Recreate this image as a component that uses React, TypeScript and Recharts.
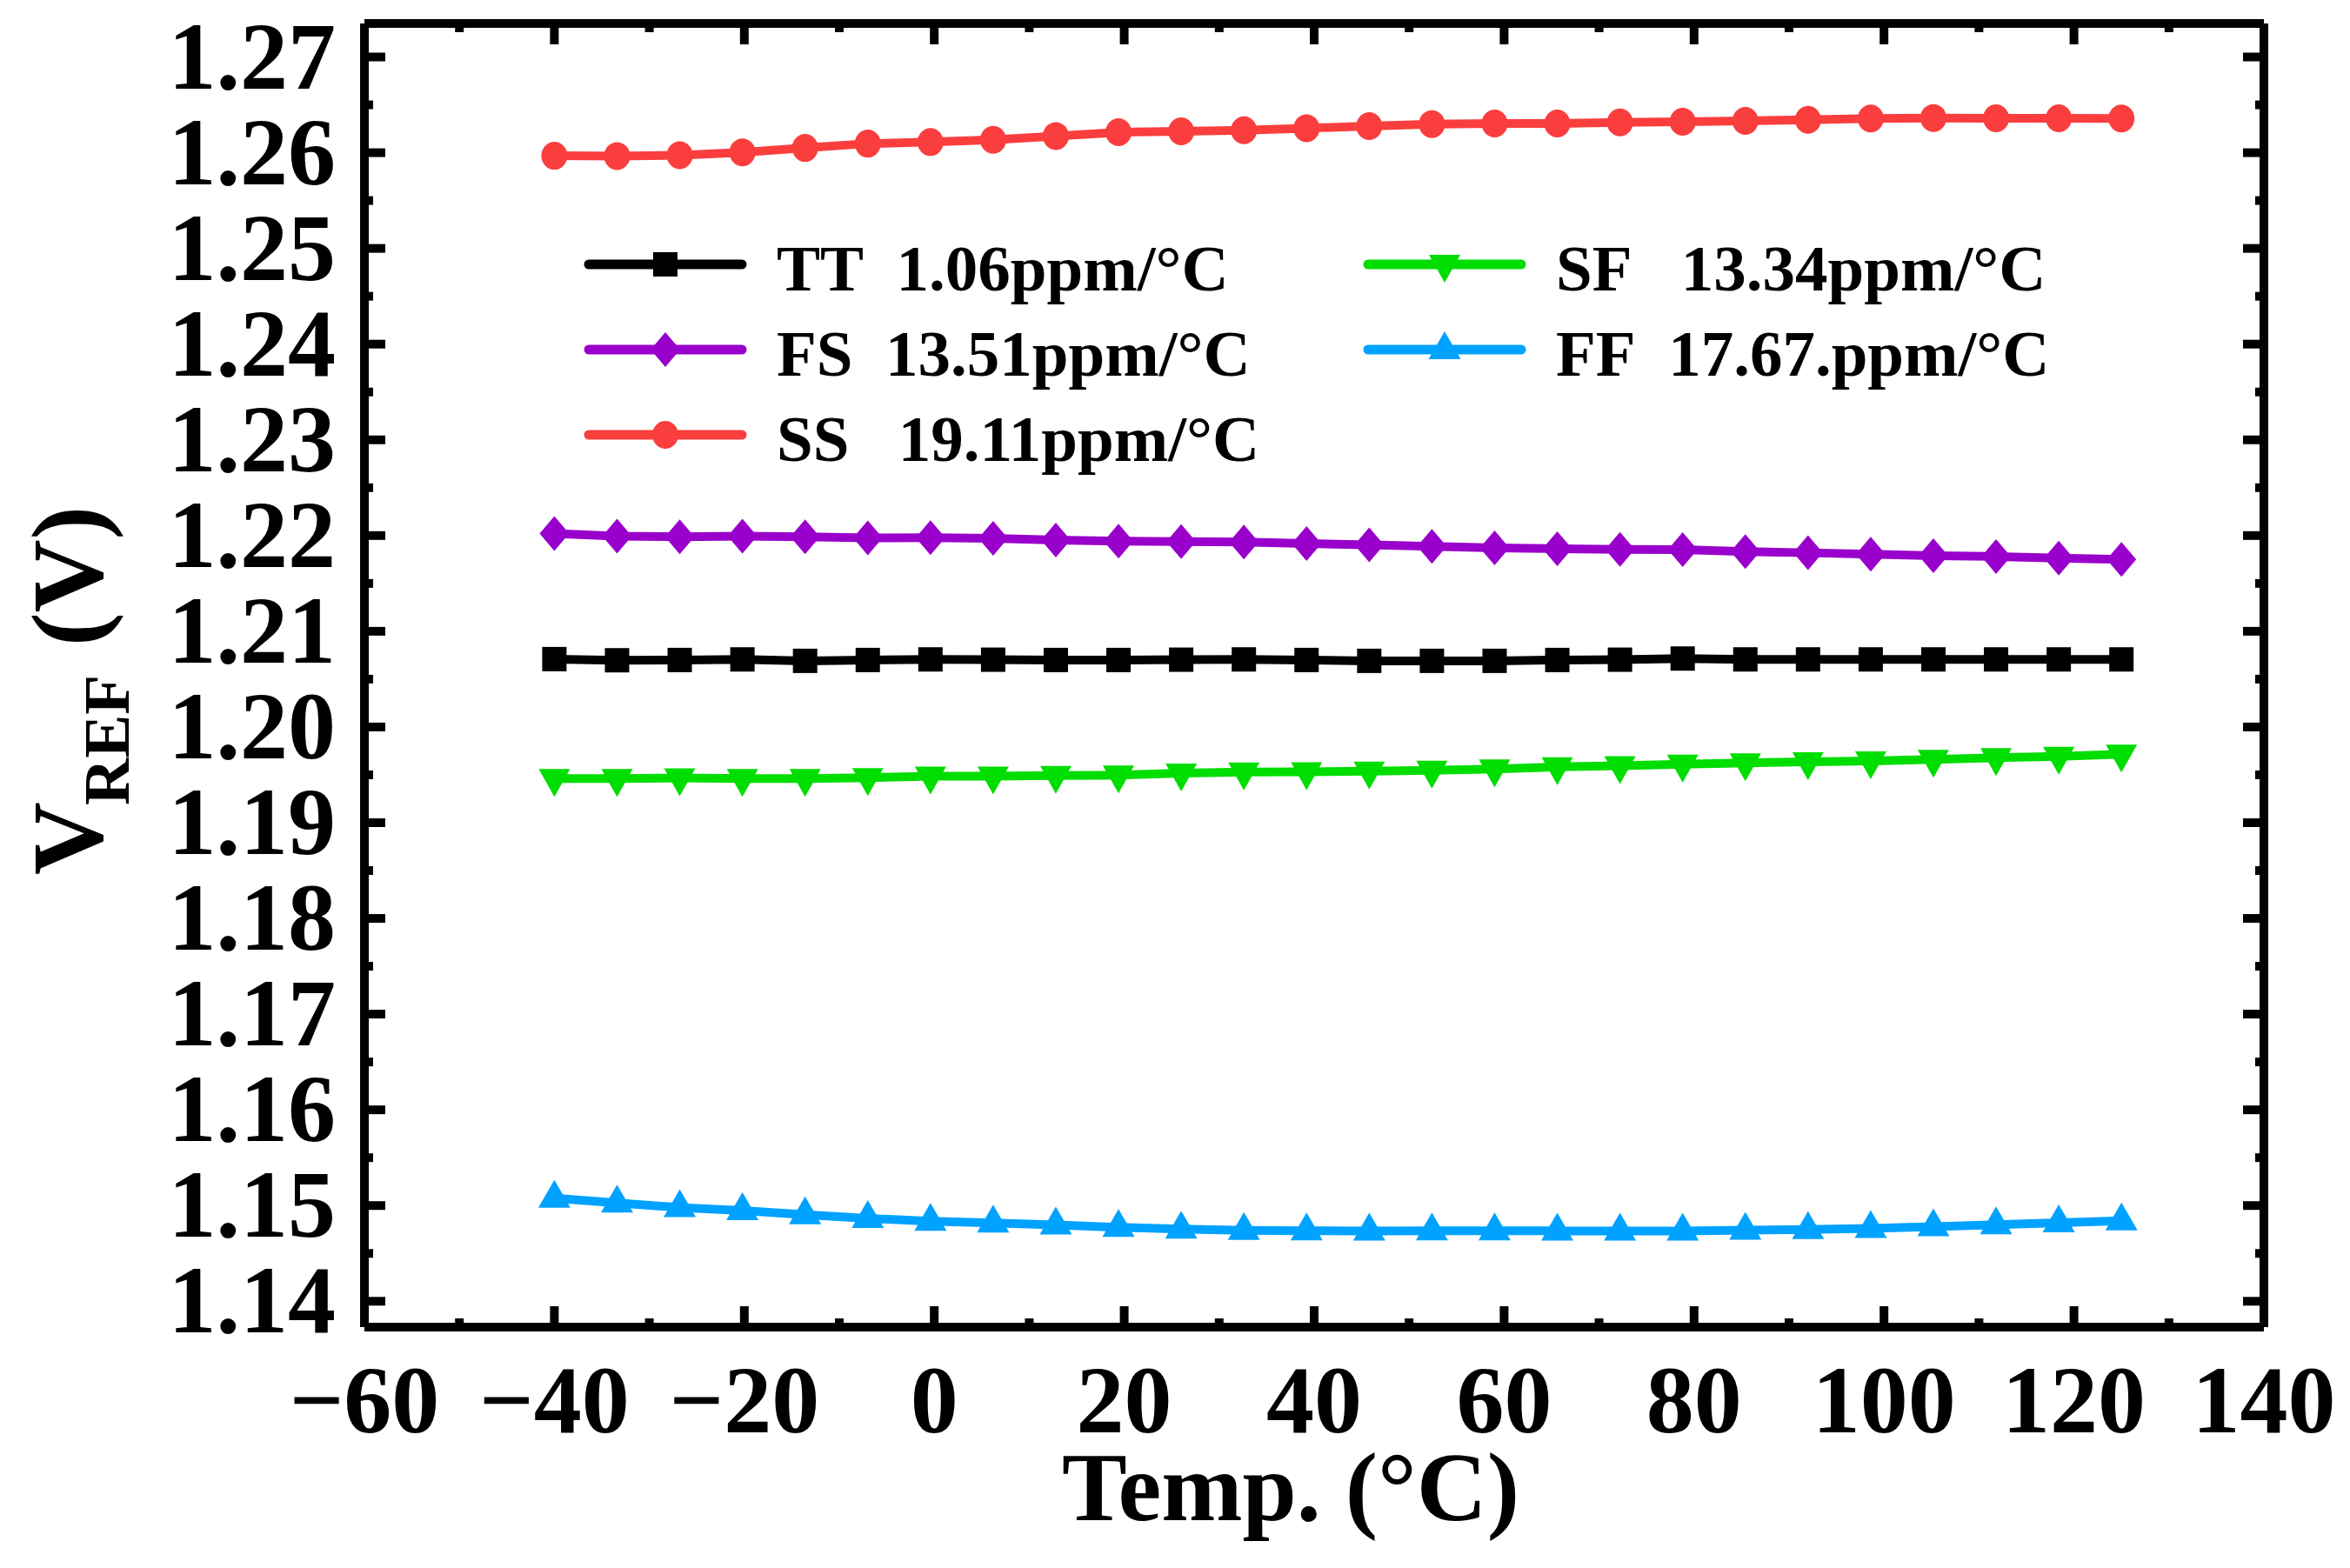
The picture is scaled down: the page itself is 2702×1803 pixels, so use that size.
import { LineChart, Line, XAxis, YAxis, Legend } from "recharts";

// temperature sweep (°C)
const TEMPS = [
  -40, -33.4, -26.8, -20.2, -13.6, -7, -0.4, 6.2, 12.8, 19.4, 26, 32.6, 39.2,
  45.8, 52.4, 59, 65.6, 72.2, 78.8, 85.4, 92, 98.6, 105.2, 111.8, 118.4, 125,
];

// VREF per process corner (V)
const TT = [
  1.20709, 1.20697, 1.207, 1.20706, 1.20691, 1.207, 1.20706, 1.20703, 1.207,
  1.207, 1.20703, 1.20706, 1.207, 1.20691, 1.20691, 1.20691, 1.207, 1.20703,
  1.20715, 1.20706, 1.20706, 1.20706, 1.20706, 1.20706, 1.20706, 1.20706,
];
const FS = [
  1.2202, 1.21993, 1.21987, 1.21993, 1.21987, 1.21975, 1.21978, 1.21972, 1.21954,
  1.21941, 1.21938, 1.21932, 1.21917, 1.21902, 1.21887, 1.21872, 1.21862,
  1.21856, 1.21853, 1.21832, 1.2182, 1.21805, 1.2179, 1.21781, 1.21765, 1.2175,
];
const SS = [
  1.25968, 1.25965, 1.25974, 1.26004, 1.2605, 1.26095, 1.26111, 1.26135, 1.26174,
  1.26214, 1.26223, 1.26235, 1.26256, 1.26278, 1.26299, 1.26305, 1.26305,
  1.26317, 1.26323, 1.26332, 1.26344, 1.26357, 1.26363, 1.2636, 1.2636, 1.26357,
];
const SF = [
  1.19462, 1.19462, 1.19468, 1.19462, 1.19462, 1.19471, 1.19486, 1.19486,
  1.19492, 1.19497, 1.19517, 1.19529, 1.19532, 1.19538, 1.19547, 1.19562,
  1.19583, 1.19596, 1.1961, 1.19625, 1.19635, 1.19644, 1.1966, 1.19678,
  1.19693, 1.19716,
];
const FF = [
  1.15078, 1.15028, 1.1498, 1.14948, 1.14905, 1.14865, 1.14837, 1.14819, 1.14797,
  1.14772, 1.14754, 1.1474, 1.14737, 1.14733, 1.14737, 1.14737, 1.14735, 1.14733,
  1.14735, 1.14742, 1.1475, 1.14762, 1.1478, 1.148, 1.1482, 1.1484,
];

const X_TICKS = [-60, -50, -40, -30, -20, -10, 0, 10, 20, 30, 40, 50, 60, 70, 80, 90, 100, 110, 120, 130, 140];
const X_MAJOR = [-60, -40, -20, 0, 20, 40, 60, 80, 100, 120, 140];
const Y_TICKS = [
  1.14, 1.145, 1.15, 1.155, 1.16, 1.165, 1.17, 1.175, 1.18, 1.185, 1.19, 1.195,
  1.2, 1.205, 1.21, 1.215, 1.22, 1.225, 1.23, 1.235, 1.24, 1.245, 1.25, 1.255,
  1.26, 1.265, 1.27,
];
const Y_MAJOR = [1.14, 1.15, 1.16, 1.17, 1.18, 1.19, 1.2, 1.21, 1.22, 1.23, 1.24, 1.25, 1.26, 1.27];

const LEGEND_TEXT: Record<string, string> = {
  TT: "TT\u00A0\u00A01.06ppm/°C",
  FS: "FS\u00A0\u00A013.51ppm/°C",
  SS: "SS\u00A0\u00A0\u00A019.11ppm/°C",
  SF: "SF\u00A0\u00A0\u00A013.34ppm/°C",
  FF: "FF\u00A0\u00A017.67.ppm/°C",
};

const COLORS: Record<string, string> = {
  TT: "#000000",
  FS: "#9900cc",
  SS: "#fa3e3e",
  SF: "#00dd00",
  FF: "#00a2ff",
};

const SHAPES: Record<string, string> = {
  TT: "square",
  FS: "diamond",
  SS: "circle",
  SF: "triDown",
  FF: "triUp",
};

const data = TEMPS.map((t, i) => ({ t, TT: TT[i], FS: FS[i], SS: SS[i], SF: SF[i], FF: FF[i] }));

const FRAME = { left: 419, right: 2603, top: 27, bottom: 1526 };
const FONT = "'Liberation Serif', 'Times New Roman', serif";

function marker(shape: string, color: string, cx: number, cy: number, key?: any) {
  if (shape === "square") return <rect key={key} x={cx - 14} y={cy - 14} width={28} height={28} fill={color} />;
  if (shape === "circle") return <ellipse key={key} cx={cx} cy={cy} rx={15} ry={16} fill={color} />;
  if (shape === "diamond")
    return <polygon key={key} points={`${cx},${cy - 20} ${cx + 17},${cy} ${cx},${cy + 20} ${cx - 17},${cy}`} fill={color} />;
  if (shape === "triUp")
    return <polygon key={key} points={`${cx},${cy - 21} ${cx + 18.5},${cy + 11} ${cx - 18.5},${cy + 11}`} fill={color} />;
  return <polygon key={key} points={`${cx},${cy + 21} ${cx + 18},${cy - 11} ${cx - 18},${cy - 11}`} fill={color} />;
}

const isIn = (list: number[], v: number) => list.some((m) => Math.abs(m - v) < 1e-9);

function XTick(props: any) {
  const { payload } = props;
  const x = payload.coordinate;
  const v = payload.value;
  const major = isIn(X_MAJOR, v);
  const len = major ? 24 : 10;
  return (
    <g>
      <line x1={x} x2={x} y1={FRAME.bottom} y2={FRAME.bottom - len} stroke="#000" strokeWidth={10} />
      <line x1={x} x2={x} y1={FRAME.top} y2={FRAME.top + len} stroke="#000" strokeWidth={10} />
      {major && (
        <text x={x} y={1647} textAnchor="middle" fontFamily={FONT} fontWeight="bold" fontSize={110} fill="#000">
          {v < 0 ? "\u2212" + Math.abs(v) : String(v)}
        </text>
      )}
    </g>
  );
}

function YTick(props: any) {
  const { payload } = props;
  const y = payload.coordinate;
  const v = payload.value;
  const major = isIn(Y_MAJOR, v);
  const len = major ? 24 : 10;
  return (
    <g>
      <line x1={FRAME.left} x2={FRAME.left + len} y1={y} y2={y} stroke="#000" strokeWidth={10} />
      <line x1={FRAME.right} x2={FRAME.right - len} y1={y} y2={y} stroke="#000" strokeWidth={10} />
      {major && (
        <text x={386} y={y + 36} textAnchor="end" fontFamily={FONT} fontWeight="bold" fontSize={110} fill="#000">
          {v.toFixed(2)}
        </text>
      )}
    </g>
  );
}

function XTitle() {
  return (
    <text x={1484} y={1748} textAnchor="middle" fontFamily={FONT} fontWeight="bold" fontSize={112} fill="#000">
      Temp. (°C)
    </text>
  );
}

// rotated title, drawn as three pieces: V, subscript REF, (V)
function YTitle() {
  const parts = [
    { s: "V", x: 117, y: 1006, size: 116 },
    { s: "REF", x: 148, y: 926, size: 75 },
    { s: "(V)", x: 117, y: 743, size: 116 },
  ];
  return (
    <g>
      {parts.map((p) => (
        <text
          key={p.s}
          x={p.x}
          y={p.y}
          transform={`rotate(-90, ${p.x}, ${p.y})`}
          textAnchor="start"
          fontFamily={FONT}
          fontWeight="bold"
          fontSize={p.size}
          fill="#000"
        >
          {p.s}
        </text>
      ))}
    </g>
  );
}

const LEG_LEFT = 600;
const LEG_TOP = 230;
const LEGEND_ROWS = [
  { key: "TT", col: 0, row: 0 },
  { key: "FS", col: 0, row: 1 },
  { key: "SS", col: 0, row: 2 },
  { key: "SF", col: 1, row: 0 },
  { key: "FF", col: 1, row: 1 },
];

function LegendBox() {
  return (
    <svg width={1800} height={320} style={{ overflow: "visible", display: "block" }}>
      {LEGEND_ROWS.map(({ key, col, row }) => {
        const y = 74 + row * 98;
        const x0 = col === 0 ? 77 : 973;
        return (
          <g key={key}>
            <line x1={x0} x2={x0 + 176} y1={y} y2={y} stroke={COLORS[key]} strokeWidth={11} strokeLinecap="round" />
            {marker(SHAPES[key], COLORS[key], x0 + 88, y)}
            <text x={x0 + 216} y={y + 30} fontFamily={FONT} fontWeight="bold" fontSize={75} fill="#000">
              {LEGEND_TEXT[key]}
            </text>
          </g>
        );
      })}
    </svg>
  );
}

const SERIES = ["SS", "FS", "TT", "SF", "FF"];

export default function App() {
  return (
    <div style={{ position: "absolute", left: 0, top: 0, background: "#fff" }}>
      <LineChart
        width={2702}
        height={1803}
        data={data}
        margin={{ top: FRAME.top - 1, right: 2702 - FRAME.right - 1, bottom: 1803 - FRAME.bottom - 1, left: FRAME.left - 1 }}
      >
        <XAxis
          xAxisId="b"
          dataKey="t"
          type="number"
          domain={[-60, 140]}
          ticks={X_TICKS}
          interval={0}
          height={1}
          allowDataOverflow
          axisLine={{ stroke: "#000", strokeWidth: 10 }}
          tickLine={false}
          tick={<XTick />}
          label={<XTitle />}
        />
        <XAxis
          xAxisId="t"
          orientation="top"
          dataKey="t"
          type="number"
          domain={[-60, 140]}
          height={1}
          allowDataOverflow
          axisLine={{ stroke: "#000", strokeWidth: 10 }}
          tickLine={false}
          tick={false}
        />
        <YAxis
          yAxisId="l"
          type="number"
          domain={[1.1373, 1.2735]}
          ticks={Y_TICKS}
          interval={0}
          width={1}
          allowDataOverflow
          axisLine={{ stroke: "#000", strokeWidth: 10 }}
          tickLine={false}
          tick={<YTick />}
          label={<YTitle />}
        />
        <YAxis
          yAxisId="r"
          orientation="right"
          type="number"
          domain={[1.1373, 1.2735]}
          width={1}
          allowDataOverflow
          axisLine={{ stroke: "#000", strokeWidth: 10 }}
          tickLine={false}
          tick={false}
        />
        {SERIES.map((s) => (
          <Line
            key={s}
            xAxisId="b"
            yAxisId="l"
            type="linear"
            dataKey={s}
            stroke={COLORS[s]}
            strokeWidth={10}
            isAnimationActive={false}
            dot={(p: any) => marker(SHAPES[s], COLORS[s], p.cx, p.cy, `${s}-${p.index}`)}
            activeDot={false}
          />
        ))}
        <Legend
          layout="vertical"
          align="center"
          verticalAlign="middle"
          content={<LegendBox />}
          wrapperStyle={{ position: "absolute", left: LEG_LEFT, top: LEG_TOP, width: 1800, height: 320 }}
        />
      </LineChart>
    </div>
  );
}
